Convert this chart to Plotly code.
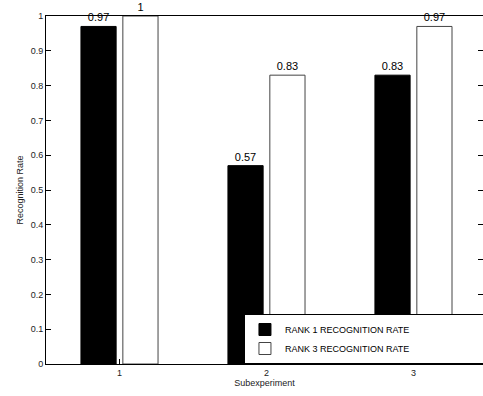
import plotly.graph_objects as go

categories = [1, 2, 3]
rank1 = [0.97, 0.57, 0.83]
rank3 = [1.0, 0.83, 0.97]
rank1_labels = ["0.97", "0.57", "0.83"]
rank3_labels = ["1", "0.83", "0.97"]
series_names = ["RANK 1 RECOGNITION RATE", "RANK 3 RECOGNITION RATE"]
y_ticks = [0, 0.1, 0.2, 0.3, 0.4, 0.5, 0.6, 0.7, 0.8, 0.9, 1]
y_tick_labels = ["0", "0.1", "0.2", "0.3", "0.4", "0.5", "0.6", "0.7", "0.8", "0.9", "1"]

FONT = "Liberation Sans, Arial, Helvetica, sans-serif"

fig = go.Figure()
fig.add_trace(go.Bar(
    x=categories, y=rank1, name=series_names[0],
    marker=dict(color="black", line=dict(color="black", width=1)),
    text=rank1_labels, textposition="outside", cliponaxis=False,
    textfont=dict(size=11, color="black", family=FONT),
))
fig.add_trace(go.Bar(
    x=categories, y=rank3, name=series_names[1],
    marker=dict(color="white", line=dict(color="#444444", width=1)),
    text=rank3_labels, textposition="outside", cliponaxis=False,
    textfont=dict(size=11, color="black", family=FONT),
))

fig.update_layout(
    width=483, height=396,
    margin=dict(l=46, r=0, t=16, b=32, autoexpand=False),
    paper_bgcolor="white", plot_bgcolor="white",
    barmode="group", bargap=0.43, bargroupgap=0.16,
    font=dict(family=FONT, size=9, color="#222222"),
    showlegend=True,
    legend=dict(
        orientation="h",
        x=0.453, y=0, xanchor="left", yanchor="bottom",
        bgcolor="white", bordercolor="black", borderwidth=1,
        font=dict(size=9, family=FONT, color="black"),
        entrywidth=260, entrywidthmode="pixels",
        tracegroupgap=0,
    ),
    xaxis=dict(
        range=[0.5, 3.473], tickvals=categories, ticktext=["1", "2", "3"],
        ticks="inside", ticklen=5, tickcolor="black",
        showline=True, linecolor="black", linewidth=1, mirror=True,
        showgrid=False, zeroline=False, automargin=False,
        title=dict(text="Subexperiment", font=dict(size=9), standoff=1),
        tickfont=dict(size=9),
    ),
    yaxis=dict(
        range=[0, 1], tickvals=y_ticks, ticktext=y_tick_labels,
        ticks="inside", ticklen=5, tickcolor="black",
        showline=True, linecolor="black", linewidth=1, mirror="ticks",
        showgrid=False, zeroline=False, automargin=False,
        title=dict(text="Recognition Rate", font=dict(size=9), standoff=5),
        tickfont=dict(size=9),
    ),
)

fig.write_html("out.html", config={"displayModeBar": False},
               post_script="document.body.style.margin='0';")
